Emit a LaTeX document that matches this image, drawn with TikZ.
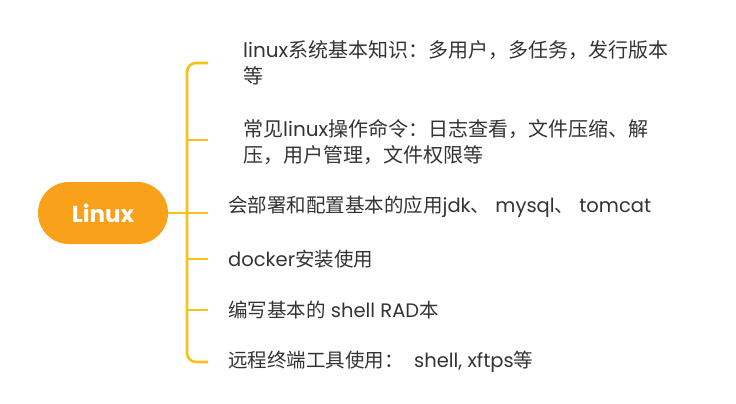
\documentclass[tikz,border=0pt]{standalone}
\usepackage{fontspec}
\setmainfont{Noto Sans CJK SC}
\newfontfamily\latfont{Poppins}
\newcommand{\lt}[1]{{\latfont #1}}
\definecolor{rootorange}{HTML}{F9A11B}
\definecolor{lineyellow}{HTML}{F5C21B}
\definecolor{txtgray}{HTML}{333333}
\begin{document}
\begin{tikzpicture}[x=1pt,y=1pt,
  rootbox/.style={fill=rootorange, rounded corners=31pt, minimum width=130pt, minimum height=62pt, inner sep=0pt, text=white, font=\latfont\fontsize{23}{26}\selectfont\bfseries},
  item/.style={anchor=west, inner sep=0pt, text=txtgray, align=left, font=\fontsize{19.5}{26}\selectfont},
  bigitem/.style={item, font=\fontsize{20}{26}\selectfont},
  conn/.style={draw=lineyellow, line width=2.6pt, rounded corners=9pt}]
\useasboundingbox (0,0) rectangle (736,-404);
\node[rootbox] (root) at (103,-213) {Linux};
\coordinate (j) at (187,-213);
\coordinate (b1) at (208,-63);
\coordinate (b2) at (208,-140);
\coordinate (b3) at (208,-213);
\coordinate (b4) at (208,-259);
\coordinate (b5) at (208,-310);
\coordinate (b6) at (208,-362);
\node[bigitem] (t1) at (243,-63) {\lt{linux}系统基本知识：多用户，多任务，发行版本\\等};
\node[bigitem] (t2) at (243,-142) {常见\lt{linux}操作命令：日志查看，文件压缩、解\\压，用户管理，文件权限等};
\node[item] (t3) at (228,-207) {会部署和配置基本的应用\lt{jdk}、\lt{ mysql}、\lt{ tomcat}};
\node[item] (t4) at (228,-259) {\lt{docker}安装使用};
\node[item] (t5) at (228,-310) {编写基本的\lt{ shell RAD}本};
\node[item] (t6) at (228,-362) {远程终端工具使用：\lt{\ \ shell, xftps}等};
\draw[conn] (root.east) -- (b3);
\draw[conn] (b1) -- (b1 -| j) -- (j);
\draw[conn] (b6) -- (b6 -| j) -- (j);
\draw[conn] (b2 -| j) -- (b2);
\draw[conn] (b4 -| j) -- (b4);
\draw[conn] (b5 -| j) -- (b5);
\end{tikzpicture}
\end{document}
